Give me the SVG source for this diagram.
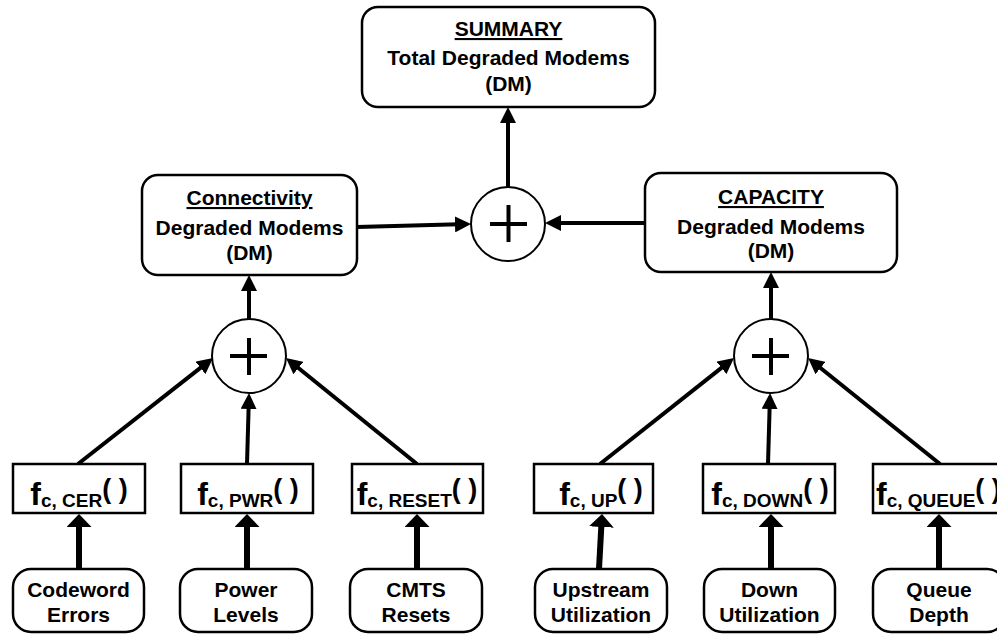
<svg xmlns="http://www.w3.org/2000/svg" width="997" height="634" viewBox="0 0 997 634">
<defs>
<style>
text{font-family:"Liberation Sans",Arial,sans-serif;font-weight:bold;fill:#000;}
.t{font-size:21px;text-anchor:middle;}
.box{fill:#fff;stroke:#000;stroke-width:2.5;}
.sum{fill:#fff;stroke:#000;stroke-width:2;}
.plus{stroke:#000;stroke-width:4;fill:none;}
.c{stroke:#000;stroke-width:4;fill:none;marker-end:url(#ah);}
.k{stroke:#000;stroke-width:6;fill:none;marker-end:url(#ahk);}
.fb{text-anchor:middle;}
.f{font-size:32px;}
.s{font-size:19px;}
.p{font-size:27px;}
</style>
<marker id="ah" markerUnits="userSpaceOnUse" markerWidth="16" markerHeight="16" refX="4" refY="8" orient="auto"><path d="M0,0 L16,8 L0,16 z" fill="#000"/></marker>
<marker id="ahk" markerUnits="userSpaceOnUse" markerWidth="13" markerHeight="25" refX="2" refY="12.5" orient="auto"><path d="M0,0 L13,12.5 L0,25 z" fill="#000"/></marker>
</defs>

<g id="connectors">
<line class="c" x1="508" y1="187" x2="508" y2="119"/>
<line class="c" x1="357" y1="227" x2="459" y2="224.3"/>
<line class="c" x1="645" y1="223" x2="557" y2="223"/>
<line class="c" x1="249" y1="319" x2="249" y2="287"/>
<line class="c" x1="771" y1="319" x2="771" y2="284"/>
<line class="c" x1="78" y1="464" x2="203.6" y2="365.4"/>
<line class="c" x1="247" y1="464" x2="248.7" y2="405"/>
<line class="c" x1="417" y1="464" x2="295.3" y2="365.5"/>
<line class="c" x1="600" y1="464" x2="724.6" y2="365.4"/>
<line class="c" x1="768" y1="464" x2="769.7" y2="405"/>
<line class="c" x1="940" y1="464" x2="817.4" y2="365.5"/>
<line class="k" x1="79" y1="569" x2="79" y2="525"/>
<line class="k" x1="247" y1="569" x2="247" y2="525"/>
<line class="k" x1="417" y1="569" x2="417" y2="525"/>
<line class="k" x1="599" y1="569" x2="601.4" y2="525"/>
<line class="k" x1="771" y1="569" x2="771" y2="525"/>
<line class="k" x1="939" y1="569" x2="939" y2="525"/>
</g>

<g id="summary">
<rect class="box" x="362" y="7" width="293" height="100" rx="16"/>
<text class="t" x="508.5" y="36" text-decoration="underline">SUMMARY</text>
<text class="t" x="508.5" y="65">Total Degraded Modems</text>
<text class="t" x="508.5" y="91">(DM)</text>
</g>

<g id="connectivity">
<rect class="box" x="142" y="175" width="215" height="100" rx="16"/>
<text class="t" x="249.5" y="205" text-decoration="underline">Connectivity</text>
<text class="t" x="249.5" y="235">Degraded Modems</text>
<text class="t" x="249.5" y="260">(DM)</text>
</g>

<g id="capacity">
<rect class="box" x="645" y="173" width="252" height="99" rx="16"/>
<text class="t" x="771" y="204" text-decoration="underline">CAPACITY</text>
<text class="t" x="771" y="234">Degraded Modems</text>
<text class="t" x="771" y="258">(DM)</text>
</g>

<g id="sum-top">
<circle class="sum" cx="508" cy="224" r="37"/>
<path class="plus" d="M490,224 H527 M508.5,205 V242"/>
</g>
<g id="sum-left">
<circle class="sum" cx="249" cy="356" r="37"/>
<path class="plus" d="M230,356 H267 M249,338 V375"/>
</g>
<g id="sum-right">
<circle class="sum" cx="771" cy="356" r="37"/>
<path class="plus" d="M752,356 H789 M771,338 V375"/>
</g>

<g id="f-cer">
<rect class="box" x="13" y="464" width="132" height="49"/>
<text class="fb" x="79" y="505"><tspan class="f">f</tspan><tspan class="s" dy="2">c, CER</tspan><tspan class="p" dy="-9">( )</tspan></text>
</g>
<g id="f-pwr">
<rect class="box" x="181" y="464" width="132" height="49"/>
<text class="fb" x="248" y="505"><tspan class="f">f</tspan><tspan class="s" dy="2">c, PWR</tspan><tspan class="p" dy="-9">( )</tspan></text>
</g>
<g id="f-reset">
<rect class="box" x="352" y="464" width="131" height="49"/>
<text class="fb" x="417" y="505"><tspan class="f">f</tspan><tspan class="s" dy="2">c, RESET</tspan><tspan class="p" dy="-9">( )</tspan></text>
</g>
<g id="f-up">
<rect class="box" x="534" y="464" width="119" height="49"/>
<text class="fb" x="601" y="505"><tspan class="f">f</tspan><tspan class="s" dy="2">c, UP</tspan><tspan class="p" dy="-9">( )</tspan></text>
</g>
<g id="f-down">
<rect class="box" x="703" y="464" width="132" height="49"/>
<text class="fb" x="770" y="505"><tspan class="f">f</tspan><tspan class="s" dy="2">c, DOWN</tspan><tspan class="p" dy="-9">( )</tspan></text>
</g>
<g id="f-queue">
<rect class="box" x="873" y="464" width="134" height="49"/>
<text x="876" y="505"><tspan class="f">f</tspan><tspan class="s" dy="2">c, QUEUE</tspan><tspan class="p" dy="-9">( )</tspan></text>
</g>

<g id="in-codeword">
<rect class="box" x="13" y="569" width="131" height="63" rx="18"/>
<text class="t" x="78.5" y="597">Codeword</text>
<text class="t" x="78.5" y="622">Errors</text>
</g>
<g id="in-power">
<rect class="box" x="180" y="569" width="132" height="63" rx="18"/>
<text class="t" x="246" y="597">Power</text>
<text class="t" x="246" y="622">Levels</text>
</g>
<g id="in-cmts">
<rect class="box" x="350" y="569" width="132" height="63" rx="18"/>
<text class="t" x="416" y="597">CMTS</text>
<text class="t" x="416" y="622">Resets</text>
</g>
<g id="in-upstream">
<rect class="box" x="535" y="569" width="132" height="63" rx="18"/>
<text class="t" x="601" y="597">Upstream</text>
<text class="t" x="601" y="622">Utilization</text>
</g>
<g id="in-down">
<rect class="box" x="704" y="569" width="131" height="63" rx="18"/>
<text class="t" x="769.5" y="597">Down</text>
<text class="t" x="769.5" y="622">Utilization</text>
</g>
<g id="in-queue">
<rect class="box" x="873" y="569" width="132" height="63" rx="18"/>
<text class="t" x="939" y="597">Queue</text>
<text class="t" x="939" y="622">Depth</text>
</g>
</svg>
